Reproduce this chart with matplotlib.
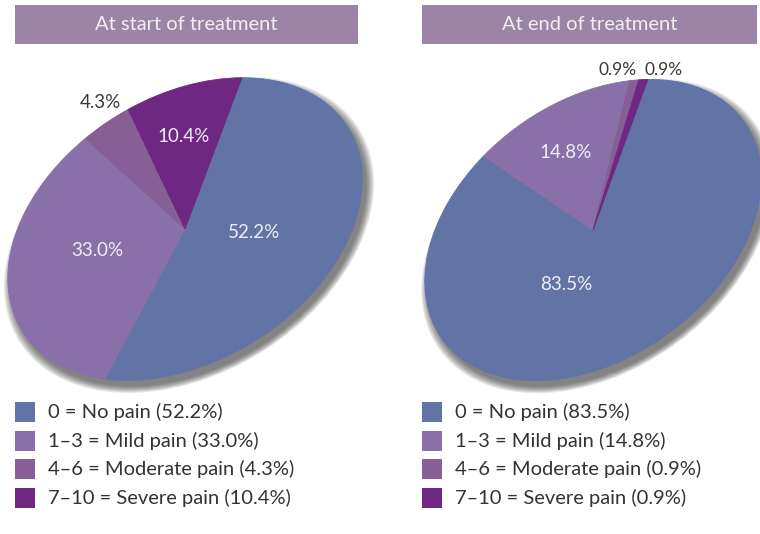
import matplotlib
matplotlib.use("Agg")
import matplotlib.pyplot as plt
from matplotlib.patches import Rectangle, Circle
from matplotlib.transforms import Affine2D

categories = ["0 = No pain", "1\u20133 = Mild pain", "4\u20136 = Moderate pain", "7\u201310 = Severe pain"]
start_values = [52.2, 33.0, 4.3, 10.4]
end_values = [83.5, 14.8, 0.9, 0.9]
titles = ["At start of treatment", "At end of treatment"]

colors = ["#6273a5", "#8a70a8", "#875f96", "#6e2882"]
FONT = "Lato"

fig = plt.figure(figsize=(7.6, 5.34), dpi=100)
ax = fig.add_axes([0, 0, 1, 1])


def tilted_pie(values, startangle, cx, cy, a, b, tilt):
    # pie drawn on the unit circle, then squashed and tilted into place
    aff = Affine2D().scale(a, b).rotate_deg(tilt).scale(1, -1).translate(cx, cy)
    for i in range(10):
        sh = Circle((0, 0), 1 + 0.005 * i, facecolor="#3a3a3a", alpha=0.09, edgecolor="none",
                    transform=aff + Affine2D().translate(4, 6) + ax.transData)
        ax.add_patch(sh)
    wedges, _ = ax.pie(values, startangle=startangle, counterclock=False, colors=colors,
                       radius=1, center=(0, 0), wedgeprops=dict(linewidth=0.6))
    for w, c in zip(wedges, colors):
        w.set_edgecolor(c)
        w.set_transform(aff + ax.transData)


def title_bar(x0, x1, text):
    ax.add_patch(Rectangle((x0, 5), x1 - x0, 39, facecolor="#9b84a5", edgecolor="none"))
    ax.text((x0 + x1) / 2, 25, text, color="#f2eef4", fontsize=14.5, family=FONT,
            ha="center", va="center")


def legend(x0, values):
    for i, (cat, v) in enumerate(zip(categories, values)):
        y = 412 + i * 28.5
        ax.add_patch(Rectangle((x0, y - 10), 20, 20, facecolor=colors[i], edgecolor="none"))
        ax.text(x0 + 33, y, f"{cat} ({v:.1f}%)", fontsize=14.5, family=FONT,
                color="#333333", ha="left", va="center")


tilted_pie(start_values, 48, 185, 229, 192, 132, 32)
tilted_pie(end_values, 44.4, 593, 230, 186, 128, 36)

title_bar(15, 358, titles[0])
title_bar(422, 757, titles[1])

# slice labels
lab = dict(fontsize=13.5, family=FONT, ha="center", va="center")
ax.text(254, 233, f"{start_values[0]:.1f}%", color="#eeeef4", **lab)
ax.text(97, 251, f"{start_values[1]:.1f}%", color="#eeeef4", **lab)
ax.text(100, 103, f"{start_values[2]:.1f}%", color="#3a3a3a", **lab)
ax.text(184, 137, f"{start_values[3]:.1f}%", color="#eeeef4", **lab)
ax.text(566, 285, f"{end_values[0]:.1f}%", color="#eeeef4", **lab)
ax.text(566, 152, f"{end_values[1]:.1f}%", color="#eeeef4", **lab)
small = dict(lab, fontsize=12.5)
ax.text(618, 70, f"{end_values[2]:.1f}%", color="#3a3a3a", **small)
ax.text(664, 70, f"{end_values[3]:.1f}%", color="#3a3a3a", **small)

legend(15, start_values)
legend(422, end_values)

ax.set_xlim(0, 760)
ax.set_ylim(534, 0)
ax.set_aspect("auto")
ax.axis("off")

fig.savefig("out.png", dpi=100, facecolor="white")
